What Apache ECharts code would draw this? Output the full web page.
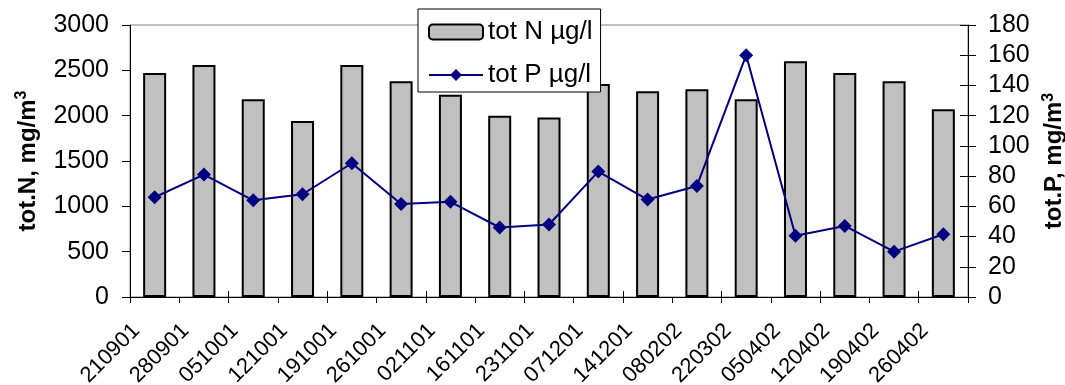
<!DOCTYPE html>
<html>
<head>
<meta charset="utf-8">
<script src="https://cdn.jsdelivr.net/npm/echarts@6/dist/echarts.min.js"></script>
<style>
  html, body { margin: 0; padding: 0; background: #fff; }
  #chart { width: 1065px; height: 385px; }
</style>
</head>
<body>
<div id="chart"></div>
<script>
// Sampling dates (DDMMYY)
const categories = ['210901','280901','051001','121001','191001','261001','021101','161101','231101',
                    '071201','141201','080202','220302','050402','120402','190402','260402'];
// Total nitrogen (left axis)
const totN = [2470, 2560, 2180, 1940, 2560, 2380, 2230, 2000, 1980, 2350, 2270, 2290, 2180, 2600, 2470, 2380, 2070];
// Total phosphorus (right axis)
const totP = [66, 81, 64, 68, 88.5, 61.5, 63, 46, 48, 83, 64.5, 73.5, 160, 40.5, 47, 30, 41.5];

const nAxis = { min: 0, max: 3000, interval: 500 };
const pAxis = { min: 0, max: 180, interval: 20 };

const FONT = 'Liberation Sans, Arial, sans-serif';
const FS = 25;
const chart = echarts.init(document.getElementById('chart'), null, { renderer: 'canvas' });

const nameRich = {
  a: { fontFamily: FONT, fontSize: 24, fontWeight: 'bold', color: '#000' },
  s: { fontFamily: FONT, fontSize: 16, fontWeight: 'bold', color: '#000', verticalAlign: 'top', padding: [0, 0, 12, 0] }
};
const plain = v => String(v);

chart.setOption({
  animation: false,
  backgroundColor: '#fff',
  textStyle: { fontFamily: FONT },
  grid: {
    left: 130, right: 97, top: 25, bottom: 88,
    outerBoundsMode: 'none', containLabel: false,
    show: true, borderColor: '#808080', borderWidth: 1, backgroundColor: 'transparent'
  },
  legend: {
    left: 418, top: 9,
    orient: 'vertical',
    backgroundColor: '#fff',
    borderColor: '#000', borderWidth: 1,
    padding: [10, 8, 4, 10],
    itemWidth: 54, itemHeight: 15, itemGap: 17,
    textStyle: { fontFamily: FONT, fontSize: 26, color: '#000' },
    data: ['tot N µg/l', 'tot P µg/l']
  },
  xAxis: [
    {
      type: 'category', data: categories, boundaryGap: true, position: 'bottom',
      axisLine: { lineStyle: { color: '#000', width: 1 } },
      axisTick: { show: true, inside: false, length: 6, alignWithLabel: false, lineStyle: { color: '#000' } },
      axisLabel: { rotate: 45, margin: 12, padding: [0, 26, 0, 0], fontSize: 22, color: '#000', fontFamily: FONT, interval: 0 }
    },
    {
      type: 'category', data: categories, boundaryGap: true, position: 'bottom',
      axisLine: { show: false },
      axisTick: { show: true, inside: true, length: 6, lineStyle: { color: '#000' } },
      axisLabel: { show: false }
    }
  ],
  yAxis: [
    {
      type: 'value', position: 'left', min: nAxis.min, max: nAxis.max, interval: nAxis.interval,
      name: '{a|tot.N, mg/m}{s|3}', nameLocation: 'middle', nameGap: 88, nameRotate: 90,
      nameTextStyle: { rich: nameRich },
      axisLine: { show: true, lineStyle: { color: '#000', width: 1 } },
      axisTick: { show: true, length: 8, lineStyle: { color: '#000' } },
      axisLabel: { margin: 21, fontSize: FS, color: '#000', fontFamily: FONT, formatter: plain },
      splitLine: { show: false }
    },
    {
      type: 'value', position: 'right', min: pAxis.min, max: pAxis.max, interval: pAxis.interval,
      name: '{a|tot.P, mg/m}{s|3}', nameLocation: 'middle', nameGap: 68, nameRotate: 90,
      nameTextStyle: { rich: nameRich },
      axisLine: { show: true, lineStyle: { color: '#000', width: 1 } },
      axisTick: { show: true, length: 8, lineStyle: { color: '#000' } },
      axisLabel: { margin: 20, fontSize: FS, color: '#000', fontFamily: FONT, formatter: plain },
      splitLine: { show: false }
    },
    {
      type: 'value', position: 'right', min: pAxis.min, max: pAxis.max, interval: pAxis.interval,
      axisLine: { show: false },
      axisTick: { show: true, inside: true, length: 8, lineStyle: { color: '#000' } },
      axisLabel: { show: false },
      splitLine: { show: false }
    }
  ],
  series: [
    {
      name: 'tot N µg/l', type: 'bar', xAxisIndex: 0, yAxisIndex: 0,
      data: totN, barWidth: 23,
      itemStyle: { color: '#C0C0C0', borderColor: '#000', borderWidth: 2 }
    },
    {
      name: 'tot P µg/l', type: 'line', xAxisIndex: 0, yAxisIndex: 1,
      data: totP,
      symbol: 'diamond', symbolSize: 14,
      lineStyle: { color: '#000080', width: 2 },
      itemStyle: { color: '#000080' }
    }
  ]
});
</script>
</body>
</html>
